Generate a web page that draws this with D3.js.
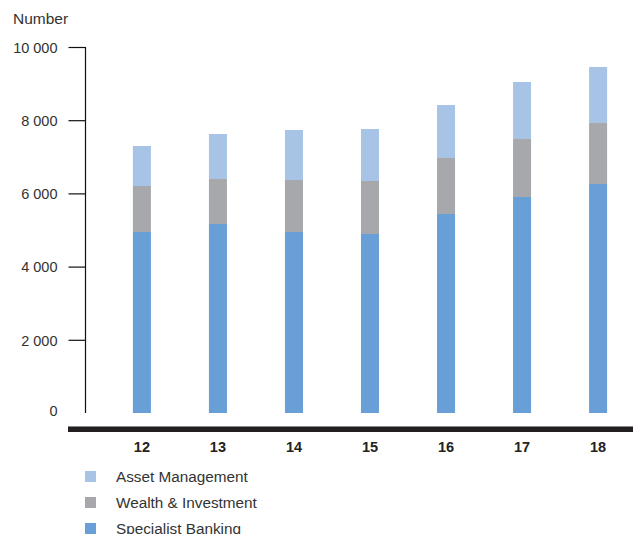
<!DOCTYPE html>
<html>
<head>
<meta charset="utf-8">
<script src="https://cdn.jsdelivr.net/npm/d3@7/dist/d3.min.js"></script>
<style>
  html, body { margin: 0; padding: 0; background: #ffffff; }
  svg { display: block; font-family: "Liberation Sans", Arial, Helvetica, sans-serif; }
</style>
</head>
<body>
<svg id="chart" width="637" height="534"></svg>
<script>
// Years (two-digit) along the x axis
const years = ["12", "13", "14", "15", "16", "17", "18"];

// Stacked series, bottom to top
const specialistBanking = [4945, 5164, 4945, 4891, 5437, 5902, 6257];
const wealthInvestment  = [1257, 1229, 1421, 1448, 1530, 1584, 1666];
const assetManagement   = [1093, 1230, 1366, 1421, 1448, 1558, 1531];

const seriesNames  = ["Specialist Banking", "Wealth & Investment", "Asset Management"];
const seriesColors = ["#679fd6", "#a7a8ab", "#a7c4e6"];

const yTicks = [0, 2000, 4000, 6000, 8000, 10000];

const svg = d3.select("#chart");

const rows = years.map((y, i) => ({
  year: y,
  "Specialist Banking": specialistBanking[i],
  "Wealth & Investment": wealthInvestment[i],
  "Asset Management": assetManagement[i]
}));

const stack = d3.stack().keys(seriesNames)(rows);

const x = d3.scaleBand()
  .domain(years)
  .range([104, 636])
  .paddingInner(0.763)
  .paddingOuter(0.38);

const y = d3.scaleLinear()
  .domain([0, 10000])
  .range([413, 47]);

const fmt = d3.formatLocale({ thousands: " ", grouping: [3], decimal: ".", currency: ["", ""] }).format(",d");

// Bars
svg.append("g")
  .selectAll("g")
  .data(stack)
  .join("g")
  .attr("fill", (d, i) => seriesColors[i])
  .selectAll("rect")
  .data(d => d)
  .join("rect")
  .attr("x", d => x(d.data.year))
  .attr("width", x.bandwidth())
  .attr("y", d => y(d[1]))
  .attr("height", d => y(d[0]) - y(d[1]));

// Y axis
const yAxis = d3.axisLeft(y)
  .tickValues(yTicks)
  .tickFormat(d => fmt(d))
  .tickSize(17)
  .tickPadding(11);

const yg = svg.append("g")
  .attr("transform", "translate(85.5,0)")
  .call(yAxis);
yg.select(".domain").attr("d", `M0,${y(10000)}V${y(0)}`).attr("stroke", "#111").attr("stroke-width", 1.2);
yg.selectAll(".tick line").attr("stroke", "#111").attr("stroke-width", 1.2);
yg.selectAll(".tick").filter(d => d === 0).select("line").remove();
yg.selectAll(".tick text")
  .attr("fill", "#333")
  .style("font-size", "14.5px")
  .attr("dy", d => d === 0 ? "0.15em" : "0.36em");

// "Number" label
svg.append("text")
  .attr("x", 13)
  .attr("y", 24)
  .attr("fill", "#333")
  .style("font-size", "15.5px")
  .text("Number");

// Heavy baseline under the chart
svg.append("rect")
  .attr("x", 68).attr("y", 426)
  .attr("width", 565).attr("height", 6)
  .attr("fill", "#231f20");
svg.append("line")
  .attr("x1", 68).attr("x2", 633)
  .attr("y1", 426.5).attr("y2", 426.5)
  .attr("stroke", "#8a8a8a").attr("stroke-width", 1);

// X axis labels
svg.append("g")
  .selectAll("text")
  .data(years)
  .join("text")
  .attr("x", d => x(d) + x.bandwidth() / 2)
  .attr("y", 452)
  .attr("text-anchor", "middle")
  .attr("fill", "#222")
  .style("font-size", "14.5px")
  .style("font-weight", "bold")
  .text(d => d);

// Legend, top entry is the upper stack
const legendItems = seriesNames.map((n, i) => ({ name: n, color: seriesColors[i] })).reverse();
const lg = svg.append("g")
  .selectAll("g")
  .data(legendItems)
  .join("g")
  .attr("transform", (d, i) => `translate(85,${471 + i * 26})`);
lg.append("rect")
  .attr("width", 11).attr("height", 11)
  .attr("fill", d => d.color);
lg.append("text")
  .attr("x", 31)
  .attr("y", 11)
  .attr("fill", "#333")
  .style("font-size", "15.3px")
  .text(d => d.name);
</script>
</body>
</html>
